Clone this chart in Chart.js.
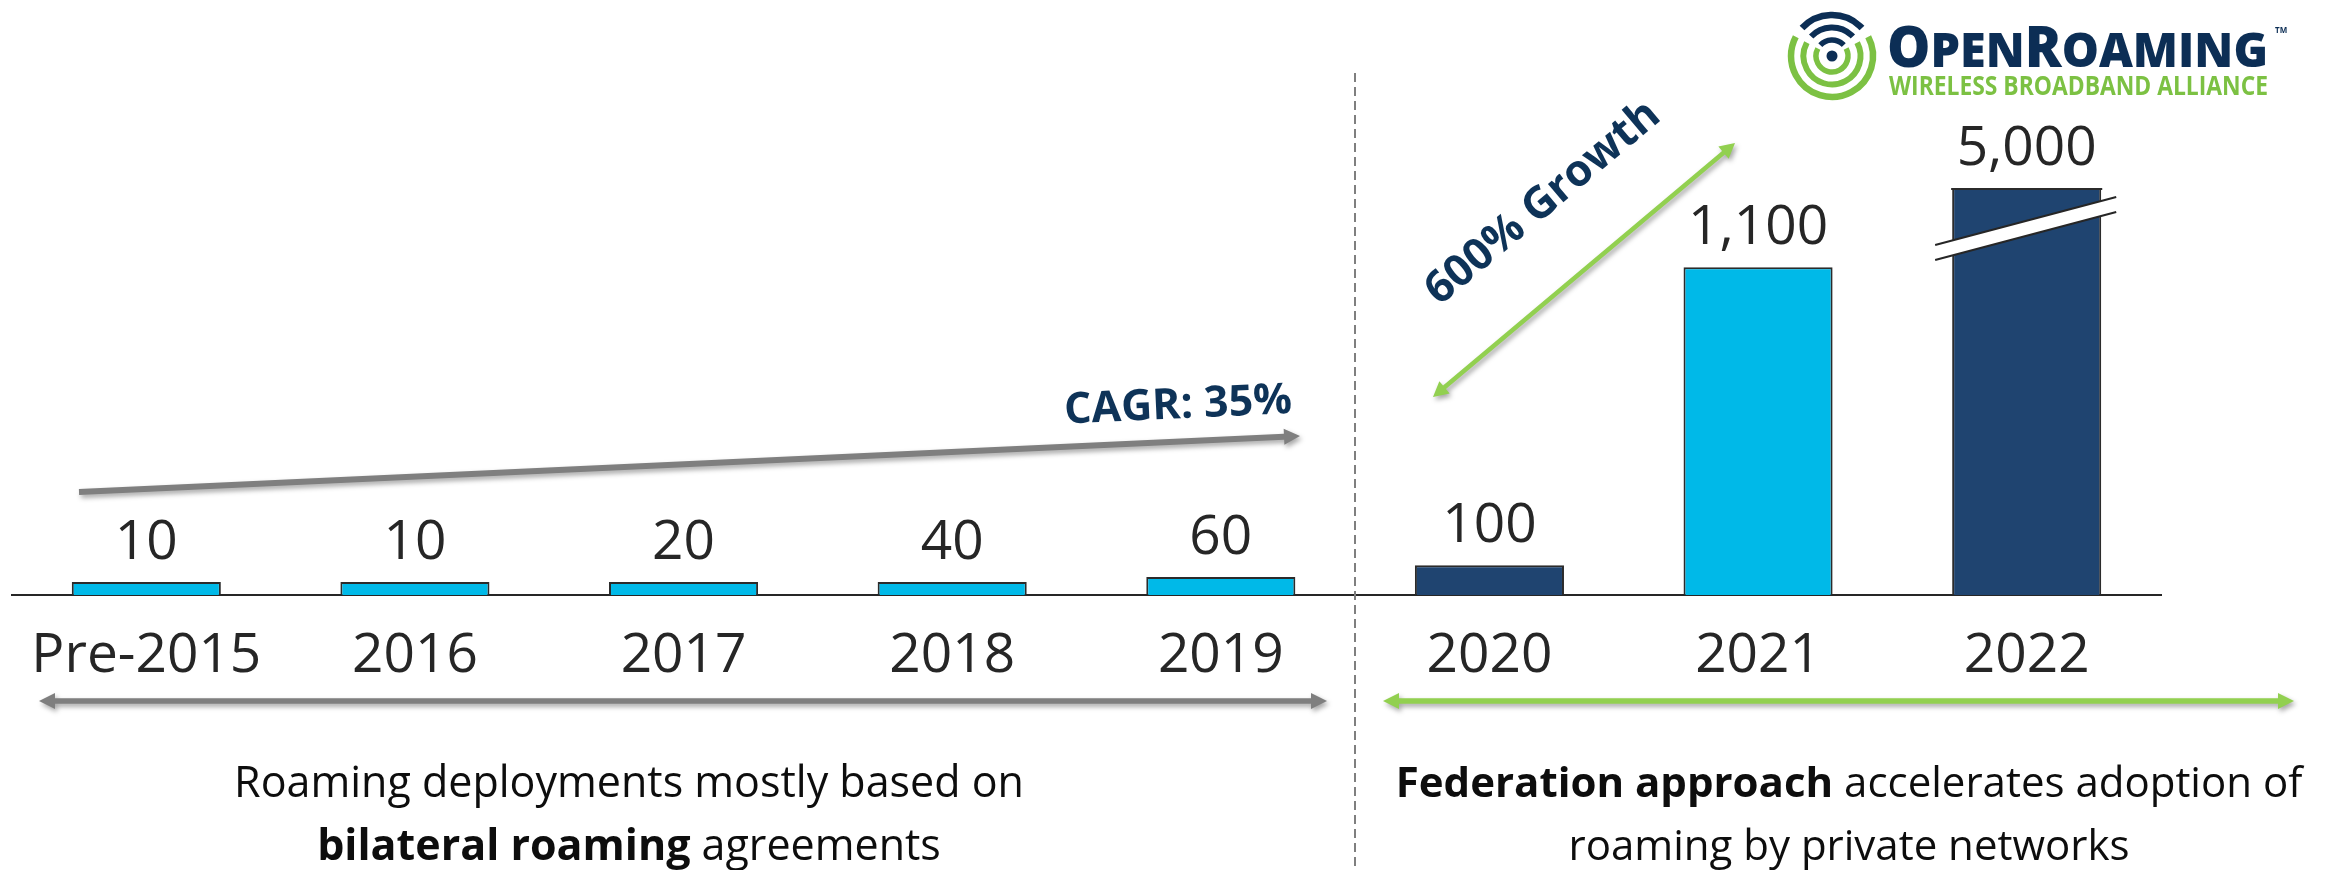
<!DOCTYPE html>
<html>
<head>
<meta charset="utf-8">
<script src="https://cdn.jsdelivr.net/npm/chart.js@4.4.1/dist/chart.umd.min.js"></script>
<style>
  html, body { margin: 0; padding: 0; background: #ffffff; }
  #wrap { width: 2339px; height: 870px; position: relative; }
</style>
</head>
<body>
<div id="wrap"><canvas id="c"></canvas></div>
<script>
// ---------------- data ----------------
const categories = ['Pre-2015', '2016', '2017', '2018', '2019', '2020', '2021', '2022'];
const deployments = [10, 10, 20, 40, 60, 100, 1100, 5000];
// the value axis is cut (broken) above this value; taller bars get a break mark
const axisBreakAt = 1366;
const cagrLabel = 'CAGR: 35%';
const growthLabel = '600% Growth';
const leftNote = [[['Roaming deployments mostly based on', false]],
                  [['bilateral roaming', true], [' agreements', false]]];
const rightNote = [[['Federation approach', true], [' accelerates adoption of', false]],
                   [['roaming by private networks', false]]];

// ---------------- styles ----------------
const LIGHT = '#00B9E8';
const NAVY = '#1F4470';
const barFill = [LIGHT, LIGHT, LIGHT, LIGHT, LIGHT, NAVY, LIGHT, NAVY];
const TEXT = '#262626';
const DEEP = '#0E3358';
const ARROW_GRAY = '#7F7F7F';
const ARROW_GREEN = '#92D050';
const LOGO_NAVY = '#0C2E55';
const LOGO_GREEN = '#7CC143';
const FONT = '"Open Sans", "DejaVu Sans", sans-serif';

const deg = a => a * Math.PI / 180;

function arrow(ctx, x0, y0, x1, y1, w, hl, hw, headStart, headEnd, color) {
  const dx = x1 - x0, dy = y1 - y0, L = Math.hypot(dx, dy);
  const ux = dx / L, uy = dy / L, nx = -uy, ny = ux;
  const b0 = headStart ? [x0 + ux * hl, y0 + uy * hl] : [x0, y0];
  const b1 = headEnd ? [x1 - ux * hl, y1 - uy * hl] : [x1, y1];
  const pts = [];
  if (headStart) pts.push([x0, y0], [b0[0] + nx * hw, b0[1] + ny * hw]);
  pts.push([b0[0] + nx * w / 2, b0[1] + ny * w / 2], [b1[0] + nx * w / 2, b1[1] + ny * w / 2]);
  if (headEnd) pts.push([b1[0] + nx * hw, b1[1] + ny * hw], [x1, y1], [b1[0] - nx * hw, b1[1] - ny * hw]);
  pts.push([b1[0] - nx * w / 2, b1[1] - ny * w / 2], [b0[0] - nx * w / 2, b0[1] - ny * w / 2]);
  if (headStart) pts.push([b0[0] - nx * hw, b0[1] - ny * hw]);
  ctx.save();
  ctx.fillStyle = color;
  ctx.shadowColor = 'rgba(0,0,0,0.35)';
  ctx.shadowBlur = 5;
  ctx.shadowOffsetX = 2;
  ctx.shadowOffsetY = 3;
  ctx.beginPath();
  pts.forEach((p, i) => i ? ctx.lineTo(p[0], p[1]) : ctx.moveTo(p[0], p[1]));
  ctx.closePath();
  ctx.fill();
  ctx.restore();
}

function mixedLine(ctx, parts, cx, y, size, color) {
  ctx.save();
  ctx.fillStyle = color;
  ctx.textBaseline = 'alphabetic';
  ctx.textAlign = 'left';
  let total = 0;
  const widths = parts.map(([t, b]) => {
    ctx.font = (b ? 'bold ' : '') + size + 'px ' + FONT;
    const w = ctx.measureText(t).width;
    total += w;
    return w;
  });
  let x = cx - total / 2;
  parts.forEach(([t, b], i) => {
    ctx.font = (b ? 'bold ' : '') + size + 'px ' + FONT;
    ctx.fillText(t, x, y);
    x += widths[i];
  });
  ctx.restore();
}

function fitText(ctx, segs, x, y, width, weight, color) {
  ctx.save();
  ctx.fillStyle = color;
  ctx.textBaseline = 'alphabetic';
  ctx.textAlign = 'left';
  let total = 0;
  const ws = segs.map(([t, s]) => {
    ctx.font = weight + ' ' + s + 'px ' + FONT;
    const w = ctx.measureText(t).width;
    total += w;
    return w;
  });
  ctx.translate(x, y);
  ctx.scale(width / total, 1);
  let px = 0;
  segs.forEach(([t, s], i) => {
    ctx.font = weight + ' ' + s + 'px ' + FONT;
    ctx.fillText(t, px, 0);
    px += ws[i];
  });
  ctx.restore();
}

function drawLogo(ctx) {
  const cx = 1832, cy = 56;
  ctx.save();
  ctx.lineCap = 'butt';
  [[41, 6.5], [28.5, 6], [16, 5.5]].forEach(([r, w]) => {
    ctx.lineWidth = w;
    ctx.strokeStyle = LOGO_NAVY;
    ctx.beginPath(); ctx.arc(cx, cy, r, deg(223), deg(317)); ctx.stroke();
    ctx.strokeStyle = LOGO_GREEN;
    ctx.beginPath(); ctx.arc(cx, cy, r, deg(-28), deg(208)); ctx.stroke();
  });
  ctx.fillStyle = LOGO_NAVY;
  ctx.beginPath(); ctx.arc(cx, cy, 5.5, 0, Math.PI * 2); ctx.fill();
  ctx.restore();
  fitText(ctx, [['O', 56], ['PEN', 48], ['R', 56], ['OAMING', 48]], 1887, 67, 381, '800', LOGO_NAVY);
  fitText(ctx, [['WIRELESS BROADBAND ALLIANCE', 27]], 1889, 95, 379, 'bold', LOGO_GREEN);
  ctx.save();
  ctx.fillStyle = LOGO_NAVY;
  ctx.font = 'bold 8px ' + FONT;
  ctx.fillText('TM', 2275, 33);
  ctx.restore();
}

const deco = {
  id: 'deco',
  afterDatasetsDraw(chart) {
    const { ctx, chartArea } = chart;
    const yScale = chart.scales.y;
    const meta = chart.getDatasetMeta(0);
    meta.data.forEach((bar, i) => {
      const v = deployments[i];
      const top = Math.max(bar.y, chartArea.top);
      if (v > yScale.max) {
        ctx.save();
        ctx.strokeStyle = '#2b2b2b';
        ctx.lineWidth = 2;
        ctx.beginPath();
        ctx.moveTo(bar.x - bar.width / 2 - 1, chartArea.top + 1);
        ctx.lineTo(bar.x + bar.width / 2 + 1, chartArea.top + 1);
        ctx.stroke();
        const x0 = bar.x - bar.width / 2 - 17, x1 = bar.x + bar.width / 2 + 15;
        const yL = chartArea.top + 57, yR = chartArea.top + 9, g = 15;
        ctx.fillStyle = '#ffffff';
        ctx.beginPath();
        ctx.moveTo(x0, yL); ctx.lineTo(x1, yR); ctx.lineTo(x1, yR + g); ctx.lineTo(x0, yL + g);
        ctx.closePath(); ctx.fill();
        ctx.strokeStyle = TEXT;
        ctx.beginPath();
        ctx.moveTo(x0, yL); ctx.lineTo(x1, yR);
        ctx.moveTo(x0, yL + g); ctx.lineTo(x1, yR + g);
        ctx.stroke();
        ctx.restore();
      }
      ctx.save();
      ctx.font = '55px ' + FONT;
      ctx.fillStyle = TEXT;
      ctx.textAlign = 'center';
      ctx.textBaseline = 'alphabetic';
      ctx.fillText(v.toLocaleString('en-US'), bar.x, top - 23);
      ctx.restore();
    });
  },
  afterDraw(chart) {
    const { ctx } = chart;
    const xs = chart.scales.x;
    // divider between the two eras
    const divX = Math.round((xs.getPixelForValue(4) + xs.getPixelForValue(5)) / 2);
    ctx.save();
    ctx.strokeStyle = ARROW_GRAY;
    ctx.lineWidth = 2;
    ctx.setLineDash([9, 5]);
    ctx.beginPath(); ctx.moveTo(divX, 73); ctx.lineTo(divX, 870); ctx.stroke();
    ctx.restore();

    // CAGR arrow and label
    arrow(ctx, 79, 492, 1300, 436, 6, 16, 8, false, true, ARROW_GRAY);
    ctx.save();
    ctx.translate(1178, 406);
    ctx.rotate(Math.atan2(-56, 1221));
    ctx.font = 'bold 43px ' + FONT;
    ctx.fillStyle = DEEP;
    ctx.textAlign = 'center';
    ctx.textBaseline = 'middle';
    ctx.fillText(cagrLabel, 0, 0);
    ctx.restore();

    // growth arrow and label
    arrow(ctx, 1433, 397, 1735, 143, 4.5, 15, 8, true, true, ARROW_GREEN);
    ctx.save();
    ctx.translate(1543, 203);
    ctx.rotate(Math.atan2(-254, 302));
    ctx.font = 'bold 44px ' + FONT;
    ctx.fillStyle = DEEP;
    ctx.textAlign = 'center';
    ctx.textBaseline = 'middle';
    ctx.fillText(growthLabel, 0, 0);
    ctx.restore();

    // era span arrows
    arrow(ctx, 39, 701, 1327, 701, 5.5, 16, 8, true, true, ARROW_GRAY);
    arrow(ctx, 1383, 701, 2294, 701, 5.5, 16, 8, true, true, ARROW_GREEN);

    // era notes
    leftNote.forEach((parts, k) => mixedLine(ctx, parts, 629, 797 + k * 63, 43, '#0d0d0d'));
    rightNote.forEach((parts, k) => mixedLine(ctx, parts, 1849, 797 + k * 63, 42, '#0d0d0d'));

    drawLogo(ctx);
  }
};

new Chart(document.getElementById('c'), {
  type: 'bar',
  data: {
    labels: categories,
    datasets: [{
      data: deployments,
      backgroundColor: barFill,
      borderColor: '#2b2b2b',
      borderWidth: 2,
      borderSkipped: 'bottom',
      barPercentage: 0.555,
      categoryPercentage: 1,
      minBarLength: 13,
      clip: 0
    }]
  },
  options: {
    responsive: true,
    maintainAspectRatio: false,
    animation: false,
    devicePixelRatio: 1,
    layout: { padding: { top: 188, left: 12, right: 178, bottom: 0 } },
    plugins: { legend: { display: false }, tooltip: { enabled: false } },
    scales: {
      x: {
        grid: { display: false, drawTicks: false },
        border: { display: true, color: '#262626', width: 2 },
        ticks: {
          color: TEXT,
          font: { family: FONT, size: 55 },
          padding: 28,
          maxRotation: 0,
          autoSkip: false
        },
        afterFit(scale) { scale.height = 275; }
      },
      y: { display: false, min: 0, max: axisBreakAt }
    }
  },
  plugins: [deco]
});
</script>
</body>
</html>
